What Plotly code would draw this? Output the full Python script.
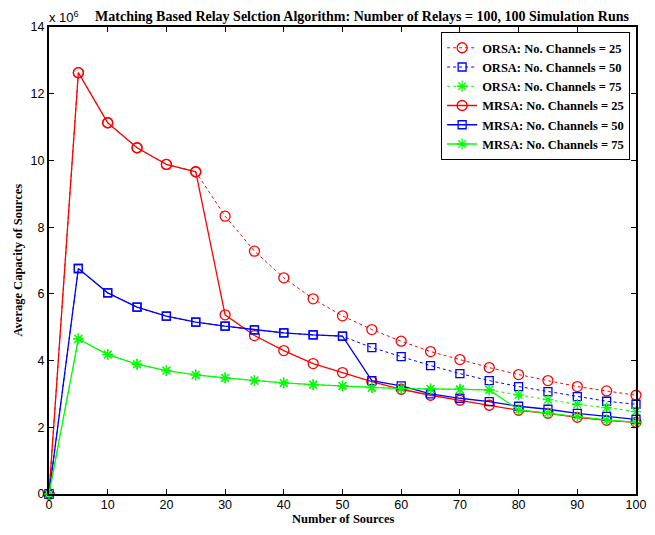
import plotly.graph_objects as go

sources = [0, 5, 10, 15, 20, 25, 30, 35, 40, 45, 50, 55, 60, 65, 70, 75, 80, 85, 90, 95, 100]

# Average capacity, in units of 1e6
orsa_25 = [0, 12.63, 11.13, 10.38, 9.88, 9.66, 8.33, 7.28, 6.48, 5.85, 5.34, 4.93, 4.58, 4.27, 4.03, 3.79, 3.58, 3.40, 3.22, 3.09, 2.96]
orsa_50 = [0, 6.76, 6.03, 5.60, 5.33, 5.15, 5.03, 4.92, 4.83, 4.77, 4.73, 4.39, 4.12, 3.85, 3.61, 3.40, 3.22, 3.07, 2.92, 2.78, 2.69]
orsa_75 = [0, 4.65, 4.18, 3.89, 3.70, 3.57, 3.48, 3.40, 3.33, 3.28, 3.24, 3.19, 3.16, 3.15, 3.14, 3.12, 2.97, 2.83, 2.69, 2.59, 2.47]
mrsa_25 = [0, 12.63, 11.13, 10.38, 9.88, 9.66, 5.37, 4.75, 4.30, 3.91, 3.64, 3.37, 3.14, 2.96, 2.81, 2.66, 2.51, 2.42, 2.30, 2.21, 2.15]
mrsa_50 = [0, 6.76, 6.03, 5.60, 5.33, 5.15, 5.03, 4.92, 4.83, 4.77, 4.73, 3.40, 3.24, 3.00, 2.87, 2.77, 2.63, 2.54, 2.42, 2.33, 2.24]
mrsa_75 = [0, 4.65, 4.18, 3.89, 3.70, 3.57, 3.48, 3.40, 3.33, 3.28, 3.24, 3.19, 3.16, 3.15, 3.14, 3.12, 2.52, 2.43, 2.32, 2.22, 2.15]

names = ["ORSA: No. Channels = 25", "ORSA: No. Channels = 50", "ORSA: No. Channels = 75",
         "MRSA: No. Channels = 25", "MRSA: No. Channels = 50", "MRSA: No. Channels = 75"]
series = [orsa_25, orsa_50, orsa_75, mrsa_25, mrsa_50, mrsa_75]
colors = ["#ff0000", "#0000ff", "#00ff00", "#ff0000", "#0000ff", "#00ff00"]
symbols = ["circle-open", "square-open", "asterisk-open", "circle-open", "square-open", "asterisk-open"]
sizes = [10, 8, 9, 10, 8, 9]
dashes = ["dot", "dot", "dot", "solid", "solid", "solid"]
widths = [1, 1, 1, 1.3, 1.3, 1.3]

yticks = [0, 2, 4, 6, 8, 10, 12, 14]
xticks = [0, 10, 20, 30, 40, 50, 60, 70, 80, 90, 100]

serif = "Liberation Serif, Times New Roman"
sans = "Liberation Sans, Arial"

# The page body has an 8px margin; the visible figure area is 639x519.
W, H = 639, 519

fig = go.Figure()
for name, ys, c, s, sz, d, w in zip(names, series, colors, symbols, sizes, dashes, widths):
    fig.add_trace(go.Scatter(
        x=sources, y=[v * 1e6 for v in ys], name="<b>" + name + "</b>", mode="lines+markers",
        line=dict(color=c, width=w, dash=d),
        marker=dict(symbol=s, size=sz, color=c, line=dict(color=c, width=1.3)),
        cliponaxis=False,
    ))

axis_common = dict(
    showline=True, linecolor="black", linewidth=2, mirror="ticks",
    ticks="inside", ticklen=5, tickcolor="black", tickwidth=1,
    showgrid=False, zeroline=False, automargin=False,
    tickfont=dict(family=sans, size=12.5, color="black"),
)

fig.update_layout(
    width=W, height=H,
    margin=dict(l=41, r=11, t=19, b=33),
    paper_bgcolor="white", plot_bgcolor="white",
    title=dict(text="<b>Matching Based Relay Selction Algorithm: Number of Relays = 100, 100 Simulation Runs</b>",
               font=dict(family=serif, size=14, color="black"),
               xref="container", x=354 / W, xanchor="center",
               yref="container", y=1 - 8 / H, yanchor="middle"),
    xaxis=dict(range=[0, 100], tickvals=xticks, ticklabelstandoff=-2, **axis_common),
    yaxis=dict(range=[0, 14e6], tickvals=[v * 1e6 for v in yticks], ticktext=[str(v) for v in yticks],
               **axis_common),
    legend=dict(x=0.99, y=0.989, xanchor="right", yanchor="top",
                bgcolor="white", bordercolor="black", borderwidth=1,
                font=dict(family=serif, size=12.5, color="black"),
                tracegroupgap=0, itemwidth=30),
    showlegend=True,
)

fig.add_annotation(text="<b>Number of Sources</b>", xref="paper", yref="paper", x=0.5, y=0,
                   xanchor="center", yanchor="bottom", yshift=-33, showarrow=False, borderpad=0,
                   font=dict(family=serif, size=12.5, color="black"))
fig.add_annotation(text="<b>Average Capacity of Sources</b>", xref="paper", yref="paper", x=0, y=0.5,
                   xanchor="center", yanchor="middle", xshift=-32, textangle=-90, showarrow=False,
                   font=dict(family=serif, size=12.5, color="black"))
fig.add_annotation(text="x 10<sup>6</sup>", xref="paper", yref="paper", x=0.0, y=1.0,
                   xanchor="left", yanchor="bottom", yshift=0, xshift=-2, showarrow=False,
                   font=dict(family=sans, size=13, color="black"))

fig.write_html("out.html")
